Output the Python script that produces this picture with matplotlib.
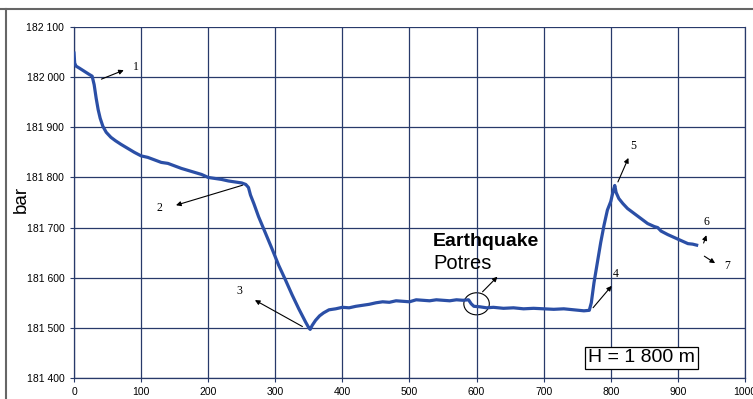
import matplotlib.pyplot as plt
from matplotlib.lines import Line2D
from matplotlib.patches import Ellipse
from matplotlib.ticker import FuncFormatter

t = [0, 1, 3, 8, 15, 22, 27, 30, 33, 36, 39, 43, 48, 55, 62, 70, 80, 90, 100,
     110, 120, 130, 140, 150, 160, 170, 180, 190, 200, 210, 220, 230, 240, 250,
     256, 260, 263, 268, 275, 285, 295, 305, 315, 325, 335, 345, 350, 352, 355,
     360, 366, 372, 380, 390, 400, 410, 420, 430, 440, 450, 460, 470, 480, 490,
     500, 510, 520, 530, 540, 550, 560, 570, 580, 588, 592, 596, 605, 615, 625,
     640, 655, 670, 685, 700, 715, 730, 745, 760, 768, 771, 775, 780, 785, 790,
     795, 800, 804, 806, 808, 812, 818, 825, 835, 845, 855, 865, 870, 875, 885,
     895, 905, 915, 922, 928]
pressure = [182048, 182028, 182022, 182018, 182012, 182006, 182002, 181985,
            181958, 181935, 181918, 181902, 181890, 181880, 181873, 181866,
            181858, 181850, 181843, 181840, 181835, 181830, 181828, 181823,
            181818, 181814, 181810, 181806, 181800, 181798, 181796, 181793,
            181791, 181789, 181786, 181780, 181765, 181748, 181722, 181690,
            181658, 181625, 181596, 181566, 181538, 181512, 181500, 181497,
            181505, 181515, 181524, 181530, 181536, 181538, 181541, 181540,
            181543, 181545, 181547, 181550, 181552, 181551, 181554, 181553,
            181552, 181556, 181555, 181554, 181556, 181555, 181554, 181556,
            181555, 181556, 181548, 181543, 181542, 181540, 181541, 181539,
            181540, 181538, 181539, 181538, 181537, 181538, 181536, 181534,
            181535, 181550, 181590, 181630, 181670, 181705, 181735, 181752,
            181775, 181784, 181770, 181758, 181748, 181738, 181728, 181718,
            181708, 181702, 181700, 181693, 181686, 181680, 181674, 181668,
            181667, 181665]

# numbered arrows: label, arrow tail, arrow head, label position (data units)
marks = [
    ("1", (37, 181994), (78, 182016), (92, 182020)),
    ("2", (255, 181786), (148, 181743), (128, 181740)),
    ("3", (344, 181500), (266, 181558), (247, 181574)),
    ("4", (771, 181536), (804, 181588), (808, 181608)),
    ("5", (809, 181786), (828, 181844), (833, 181862)),
    ("6", (937, 181664), (944, 181690), (942, 181712)),
    ("7", (936, 181646), (959, 181626), (973, 181624)),
]

fig = plt.figure(figsize=(7.53, 3.99), dpi=100)
ax = fig.add_axes([0.0983, 0.0526, 0.891, 0.8797])

ax.plot(t, pressure, color='#2b4fa6', lw=2.3, zorder=3)

ax.set_xlim(0, 1000)
ax.set_ylim(181400, 182100)
ax.set_xticks(range(0, 1001, 100))
ax.set_yticks(range(181400, 182101, 100))
ax.yaxis.set_major_formatter(FuncFormatter(lambda v, p: f"{int(v):,}".replace(",", " ")))
ax.grid(True, color='#283a6a', lw=0.9)
for s in ax.spines.values():
    s.set_color('#283a6a')
    s.set_linewidth(0.9)
ax.spines['top'].set_visible(False)
ax.tick_params(labelsize=7.5, length=3, color='#283a6a')
ax.tick_params(axis='x', pad=3.5)
ax.tick_params(axis='y', pad=4)
for lb in ax.get_xticklabels() + ax.get_yticklabels():
    lb.set_family('Liberation Sans')
ax.set_ylabel('bar', fontsize=13.5, family='Liberation Sans')
ax.yaxis.set_label_coords(-0.066, 0.51)

for lab, tail, head, pos in marks:
    ax.annotate('', xy=head, xytext=tail,
                arrowprops=dict(arrowstyle='-|>', color='black', lw=0.8,
                                mutation_scale=7))
    ax.text(pos[0], pos[1], lab, fontsize=8.5, family='Liberation Serif',
            ha='center', va='center')

# earthquake note
ax.text(535, 181672, 'Earthquake', fontsize=14, fontweight='bold',
        family='Liberation Sans', va='center')
ax.text(535, 181628, 'Potres', fontsize=14.5, family='Liberation Sans',
        va='center')
ax.add_patch(Ellipse((600, 181548), 38, 44, fill=False, color='black', lw=0.8))
ax.annotate('', xy=(634, 181606), xytext=(606, 181568),
            arrowprops=dict(arrowstyle='-|>', color='black', lw=0.8,
                            mutation_scale=7))

ax.text(846, 181440, 'H = 1 800 m', fontsize=14, family='Liberation Sans',
        ha='center', va='center',
        bbox=dict(boxstyle='square,pad=0.15', fc='white', ec='black', lw=0.9))

# outer frame of the original figure
fig.add_artist(Line2D([0, 1], [0.978, 0.978], color='#666666', lw=1.5))
fig.add_artist(Line2D([0.008, 0.008], [0, 0.978], color='#666666', lw=1.5))

fig.savefig('out.png', dpi=100)
